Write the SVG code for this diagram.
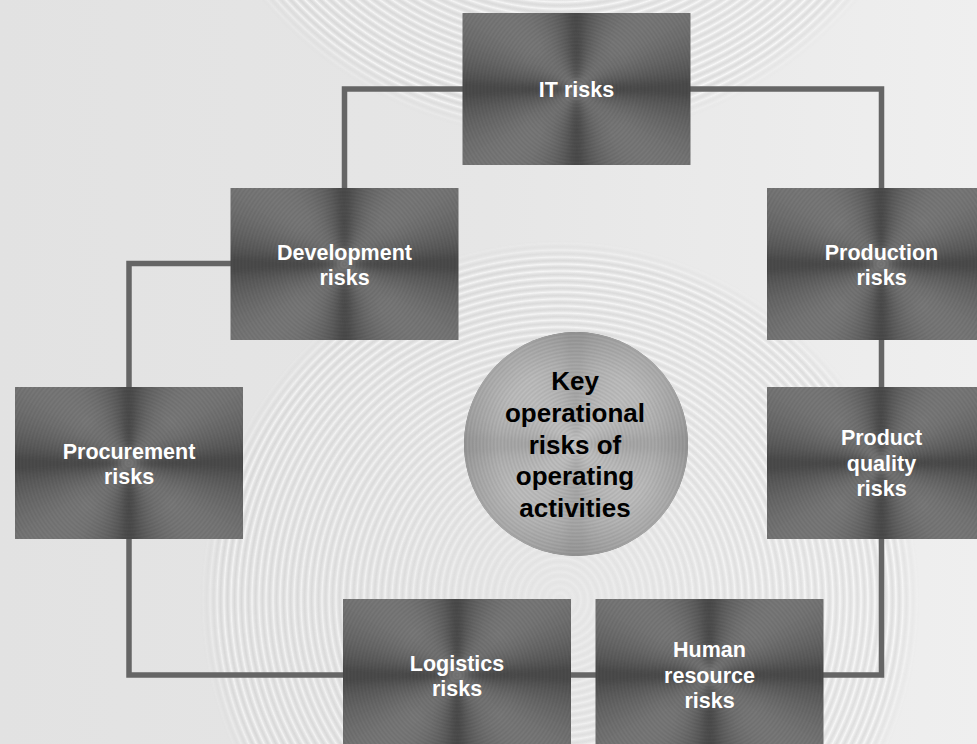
<svg xmlns="http://www.w3.org/2000/svg" xmlns:xlink="http://www.w3.org/1999/xlink" width="977" height="744" viewBox="0 0 977 744">
  <style>
    .wire { fill: none; stroke: #656565; stroke-width: 5.5; stroke-linejoin: miter; stroke-linecap: butt; }
    .lbl { font-family: "Liberation Sans", Arial, Helvetica, sans-serif; font-weight: bold; font-size: 21.5px; fill: #ffffff; text-anchor: middle; }
    .hubtxt { font-family: "Liberation Sans", Arial, Helvetica, sans-serif; font-weight: bold; font-size: 26px; fill: #000000; text-anchor: middle; }
  </style>
  <defs>
    <!-- page backdrop -->
    <linearGradient id="paper" x1="0" y1="0" x2="1" y2="0">
      <stop offset="0" stop-color="#e2e2e2"/>
      <stop offset="0.5" stop-color="#e6e6e6"/>
      <stop offset="1" stop-color="#efefef"/>
    </linearGradient>
    <!-- faint engraved rings on the page -->
    <radialGradient id="ringsBig" cx="560" cy="600" r="7" gradientUnits="userSpaceOnUse" spreadMethod="repeat">
      <stop offset="0" stop-color="#ffffff" stop-opacity="0.6"/>
      <stop offset="0.5" stop-color="#c4c4c4" stop-opacity="0.35"/>
      <stop offset="1" stop-color="#ffffff" stop-opacity="0.6"/>
    </radialGradient>
    <radialGradient id="ringsTop" cx="560" cy="-250" r="7" gradientUnits="userSpaceOnUse" spreadMethod="repeat">
      <stop offset="0" stop-color="#ffffff" stop-opacity="0.7"/>
      <stop offset="0.5" stop-color="#c4c4c4" stop-opacity="0.35"/>
      <stop offset="1" stop-color="#ffffff" stop-opacity="0.7"/>
    </radialGradient>
    <radialGradient id="rimFade" cx="0.5" cy="0.5" r="0.5">
      <stop offset="0" stop-color="#ffffff" stop-opacity="0.15"/>
      <stop offset="0.5" stop-color="#ffffff" stop-opacity="0.8"/>
      <stop offset="0.94" stop-color="#ffffff"/>
      <stop offset="1" stop-color="#000000"/>
    </radialGradient>
    <mask id="bigMask" maskUnits="userSpaceOnUse" x="0" y="0" width="977" height="744">
      <circle cx="560" cy="600" r="360" fill="url(#rimFade)"/>
    </mask>
    <mask id="topMask" maskUnits="userSpaceOnUse" x="0" y="0" width="977" height="744">
      <circle cx="560" cy="-250" r="390" fill="url(#rimFade)"/>
    </mask>

    <!-- brushed metal: conic shading built from thin wedges -->
    <path id="w" d="M0 0L152 -0.8L152 14.1Z"/>
    <g id="quad">
      <use href="#w" fill="#4b4b4b"/>
      <use href="#w" transform="rotate(5)" fill="#565656"/>
      <use href="#w" transform="rotate(10)" fill="#5f5f5f"/>
      <use href="#w" transform="rotate(15)" fill="#666666"/>
      <use href="#w" transform="rotate(20)" fill="#6c6c6c"/>
      <use href="#w" transform="rotate(25)" fill="#717171"/>
      <use href="#w" transform="rotate(30)" fill="#747474"/>
      <use href="#w" transform="rotate(35)" fill="#777777"/>
      <use href="#w" transform="rotate(40)" fill="#787878"/>
      <use href="#w" transform="rotate(45)" fill="#787878"/>
      <use href="#w" transform="rotate(50)" fill="#777777"/>
      <use href="#w" transform="rotate(55)" fill="#747474"/>
      <use href="#w" transform="rotate(60)" fill="#717171"/>
      <use href="#w" transform="rotate(65)" fill="#6c6c6c"/>
      <use href="#w" transform="rotate(70)" fill="#666666"/>
      <use href="#w" transform="rotate(75)" fill="#5f5f5f"/>
      <use href="#w" transform="rotate(80)" fill="#565656"/>
      <use href="#w" transform="rotate(85)" fill="#4b4b4b"/>
    </g>
    <g id="cone">
      <use href="#quad"/>
      <use href="#quad" transform="rotate(90)"/>
      <use href="#quad" transform="rotate(180)"/>
      <use href="#quad" transform="rotate(270)"/>
    </g>
    <filter id="soft" x="-0.2" y="-0.2" width="1.4" height="1.4">
      <feGaussianBlur stdDeviation="3"/>
    </filter>
    <radialGradient id="grain" cx="0" cy="0" r="3.5" gradientUnits="userSpaceOnUse" spreadMethod="repeat">
      <stop offset="0" stop-color="#000000" stop-opacity="0"/>
      <stop offset="0.5" stop-color="#000000" stop-opacity="0.07"/>
      <stop offset="1" stop-color="#000000" stop-opacity="0"/>
    </radialGradient>
    <!-- slightly darker core where the brushing converges -->
    <radialGradient id="core" cx="0" cy="0" r="60" gradientUnits="userSpaceOnUse">
      <stop offset="0" stop-color="#000000" stop-opacity="0.12"/>
      <stop offset="1" stop-color="#000000" stop-opacity="0"/>
    </radialGradient>
    <clipPath id="plateClip"><rect x="-114" y="-76" width="228" height="152"/></clipPath>
    <g id="plate" clip-path="url(#plateClip)">
      <g filter="url(#soft)"><use href="#cone"/></g>
      <rect x="-114" y="-76" width="228" height="152" fill="url(#core)"/>
      <rect x="-114" y="-76" width="228" height="152" fill="url(#grain)"/>
    </g>

    <!-- polished disc for the hub -->
    <clipPath id="discClip"><circle cx="0" cy="0" r="112"/></clipPath>
    <radialGradient id="discEdge" cx="0" cy="0" r="112" gradientUnits="userSpaceOnUse">
      <stop offset="0.7" stop-color="#000000" stop-opacity="0"/>
      <stop offset="1" stop-color="#000000" stop-opacity="0.1"/>
    </radialGradient>
  </defs>

  <!-- backdrop -->
  <rect x="0" y="0" width="977" height="744" fill="url(#paper)"/>
  <g id="backdrop-rings">
    <circle cx="560" cy="-250" r="390" fill="url(#ringsTop)" mask="url(#topMask)"/>
    <circle cx="560" cy="600" r="360" fill="url(#ringsBig)" mask="url(#bigMask)"/>
  </g>

  <!-- connectors -->
  <g id="connectors">
    <path class="wire" d="M463 89H344.5V188"/>
    <path class="wire" d="M231 263.5H129V387"/>
    <path class="wire" d="M129 539V675H343"/>
    <path class="wire" d="M571 675H596"/>
    <path class="wire" d="M823 675H881.5V539"/>
    <path class="wire" d="M881.5 340V387"/>
    <path class="wire" d="M690 89H881.5V188"/>
  </g>

  <!-- nodes -->
  <g id="it-risks">
    <use href="#plate" transform="translate(576.5 89)"/>
    <text class="lbl" x="576.5" y="97">IT risks</text>
  </g>
  <g id="development-risks">
    <use href="#plate" transform="translate(344.5 264)"/>
    <text class="lbl" x="344.5" y="260">Development</text>
    <text class="lbl" x="344.5" y="284.5">risks</text>
  </g>
  <g id="production-risks">
    <use href="#plate" transform="translate(881 264)"/>
    <text class="lbl" x="881.5" y="260">Production</text>
    <text class="lbl" x="881.5" y="284.5">risks</text>
  </g>
  <g id="procurement-risks">
    <use href="#plate" transform="translate(129 463)"/>
    <text class="lbl" x="129" y="459">Procurement</text>
    <text class="lbl" x="129" y="483.5">risks</text>
  </g>
  <g id="product-quality-risks">
    <use href="#plate" transform="translate(881 463)"/>
    <text class="lbl" x="881.5" y="445">Product</text>
    <text class="lbl" x="881.5" y="470.5">quality</text>
    <text class="lbl" x="881.5" y="496">risks</text>
  </g>
  <g id="logistics-risks">
    <use href="#plate" transform="translate(457 675)"/>
    <text class="lbl" x="457" y="671">Logistics</text>
    <text class="lbl" x="457" y="695.5">risks</text>
  </g>
  <g id="human-resource-risks">
    <use href="#plate" transform="translate(709.5 675)"/>
    <text class="lbl" x="709.5" y="657">Human</text>
    <text class="lbl" x="709.5" y="682.5">resource</text>
    <text class="lbl" x="709.5" y="708">risks</text>
  </g>

  <g id="hub">
    <g transform="translate(576 444)" clip-path="url(#discClip)">
      <g filter="url(#soft)"><use href="#cone"/></g>
      <circle cx="0" cy="0" r="112" fill="#ffffff" fill-opacity="0.52"/>
      <circle cx="0" cy="0" r="112" fill="url(#grain)"/>
      <circle cx="0" cy="0" r="112" fill="url(#discEdge)"/>
    </g>
    <text class="hubtxt" x="575" y="390">Key</text>
    <text class="hubtxt" x="575" y="421.75">operational</text>
    <text class="hubtxt" x="575" y="453.5">risks of</text>
    <text class="hubtxt" x="575" y="485.25">operating</text>
    <text class="hubtxt" x="575" y="517">activities</text>
  </g>
</svg>
